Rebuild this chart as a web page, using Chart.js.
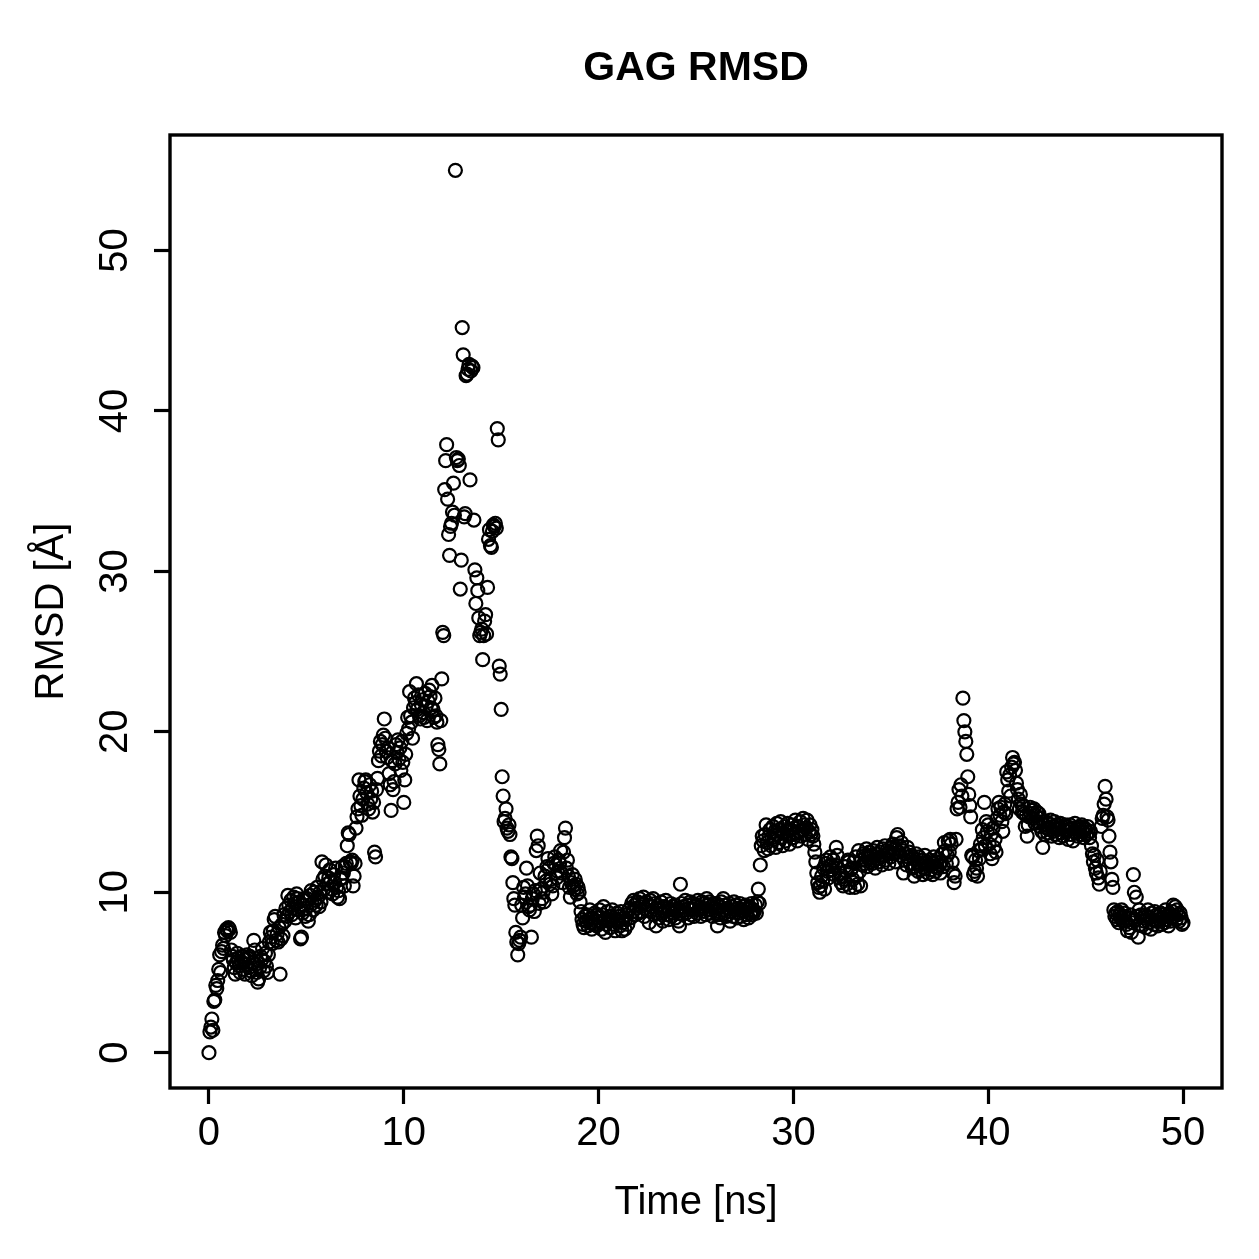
<!DOCTYPE html>
<html>
<head>
<meta charset="utf-8">
<title>GAG RMSD</title>
<script src="https://cdn.jsdelivr.net/npm/chart.js@4/dist/chart.umd.min.js"></script>
<style>
  html, body { margin: 0; padding: 0; background: #fff; }
  #chart { display: block; }
</style>
</head>
<body>
<canvas id="chart" width="1259" height="1259"></canvas>
<script>
const TITLE = 'GAG RMSD';
const X_LABEL = 'Time [ns]';
const Y_LABEL = 'RMSD [Å]';

const X_TICKS = [0, 10, 20, 30, 40, 50];
const Y_TICKS = [0, 10, 20, 30, 40, 50];

// one frame every 0.05 ns, 20 frames per row (row n = n .. n+0.95 ns)
const STEP_NS = 0.05;
const rmsd = [
  0.0, 1.3, 1.6, 2.1, 1.4, 3.2, 3.3, 4.2, 4.0, 4.5, 5.2, 6.1, 5.0, 6.3, 6.7, 6.5, 7.5, 7.3, 7.7, 7.6,
  7.8, 7.7, 7.5, 6.4, 6.0, 5.8, 5.3, 4.9, 5.6, 6.2, 5.9, 5.4, 5.0, 5.7, 6.0, 5.2, 5.8, 4.9, 5.5, 6.1,
  5.9, 5.3, 6.0, 5.1, 4.8, 5.6, 7.0, 6.4, 5.5, 5.0, 4.4, 4.6, 5.3, 6.0, 5.8, 6.5, 5.1, 5.7, 6.2, 5.4,
  5.0, 6.1, 6.9, 7.5, 7.2, 6.8, 7.6, 8.3, 8.5, 7.0, 7.4, 6.9, 7.8, 4.9, 7.1, 8.0, 7.3, 8.6, 8.2, 9.0,
  8.5, 9.8, 9.2, 8.8, 9.5, 8.6, 9.0, 9.7, 9.3, 8.4, 9.9, 9.6, 8.9, 9.4, 7.1, 7.2, 8.7, 9.2, 9.6, 8.5,
  9.0, 9.6, 8.2, 8.6, 9.8, 10.1, 9.3, 8.9, 10.0, 9.5, 9.2, 10.3, 9.7, 9.1, 10.0, 9.4, 11.9, 10.8, 10.2, 11.0,
  11.7, 10.5, 10.0, 10.9, 11.4, 10.7, 10.2, 9.9, 11.1, 10.6, 11.5, 10.3, 9.7, 10.1, 9.6, 10.8, 10.9, 11.6, 11.2, 10.4,
  11.6, 11.8, 12.9, 13.7, 13.6, 11.9, 11.8, 12.0, 10.4, 11.0, 11.8, 14.0, 14.7, 15.2, 17.0, 16.0, 15.4, 14.8, 15.8, 16.5,
  16.9, 17.0, 16.2, 15.5, 15.2, 16.7, 15.8, 16.3, 15.0, 15.6, 12.5, 12.2, 16.4, 17.1, 18.2, 18.8, 19.4, 18.5, 19.2, 19.8,
  20.8, 19.6, 18.8, 18.4, 19.0, 17.4, 16.7, 15.1, 18.2, 16.4, 16.9, 18.0, 19.2, 18.7, 19.5, 18.3, 19.0, 17.6, 19.4, 18.1,
  15.6, 17.0, 18.6, 19.9, 20.9, 20.2, 22.5, 21.0, 20.6, 19.6, 21.5, 22.1, 21.8, 23.0, 21.4, 22.3, 21.0, 20.8, 21.7, 22.0,
  21.2, 20.9, 22.4, 21.6, 20.7, 21.9, 22.6, 22.2, 21.5, 22.9, 21.4, 20.9, 22.1, 21.0, 20.6, 19.2, 18.9, 18.0, 20.7, 23.3,
  26.2, 26.0, 35.1, 36.9, 37.9, 34.5, 32.3, 31.0, 32.8, 33.0, 33.7, 35.5, 33.5, 55.0, 37.1, 36.9, 37.0, 36.6, 28.9, 30.7,
  45.2, 43.5, 33.4, 33.6, 42.2, 42.3, 42.6, 42.9, 35.7, 42.5, 42.8, 42.7, 33.2, 30.1, 28.0, 29.6, 28.8, 27.1, 26.0, 26.2,
  26.4, 24.5, 26.0, 26.9, 27.3, 26.1, 29.0, 32.0, 32.6, 31.6, 31.5, 32.5, 32.9, 32.8, 33.0, 32.7, 38.9, 38.2, 24.1, 23.6,
  21.4, 17.2, 16.0, 14.4, 14.6, 15.2, 14.0, 13.8, 14.2, 13.6, 12.2, 12.1, 10.6, 9.6, 9.2, 7.5, 6.9, 6.1, 6.8, 7.0,
  7.2, 9.2, 8.4, 10.3, 9.7, 9.9, 11.5, 10.4, 9.1, 8.9, 9.2, 7.2, 9.6, 9.9, 8.8, 10.1, 12.6, 13.5, 12.9, 9.3,
  11.2, 10.2, 9.6, 10.0, 9.4, 11.0, 10.7, 11.6, 12.1, 11.5, 10.5, 10.8, 9.9, 10.4, 11.8, 12.2, 11.7, 10.9, 11.3, 12.0,
  11.8, 12.6, 11.2, 10.6, 12.5, 13.4, 14.0, 11.5, 12.0, 11.0, 10.3, 9.7, 10.6, 11.1, 10.4, 10.2, 10.8, 10.5, 9.9, 10.3,
  10.0, 9.4, 8.8, 8.3, 8.0, 7.8, 8.5, 8.2, 8.6, 7.9, 8.3, 8.9, 8.1, 7.7, 8.4, 8.0, 8.7, 8.2, 7.9, 8.6,
  8.4, 8.9, 8.1, 7.7, 8.6, 9.1, 8.3, 7.5, 8.0, 8.8, 8.2, 8.5, 7.8, 8.3, 8.9, 8.4, 8.0, 7.6, 8.3, 8.7,
  8.2, 8.5, 7.9, 8.8, 7.6, 8.1, 8.4, 7.7, 8.3, 8.6, 8.0, 8.9, 9.0, 8.4, 9.3, 8.8, 9.5, 9.2, 8.6, 9.0,
  9.4, 8.7, 9.6, 9.1, 8.8, 9.3, 9.7, 8.5, 9.0, 9.4, 8.9, 9.2, 8.1, 9.5, 8.8, 9.1, 9.6, 8.6, 9.3, 7.9,
  8.9, 9.2, 8.4, 9.0, 9.4, 8.7, 8.2, 9.1, 8.8, 9.5, 8.6, 9.0, 8.3, 8.9, 9.3, 8.5, 9.1, 8.7, 9.2, 8.4,
  8.8, 9.0, 8.2, 7.9, 10.5, 9.3, 8.6, 9.1, 8.9, 9.5, 8.7, 9.2, 8.4, 9.0, 9.4, 8.6, 8.9, 9.3, 8.5, 9.1,
  9.2, 8.7, 9.5, 8.9, 9.1, 8.5, 9.4, 9.0, 8.8, 9.3, 8.6, 9.6, 9.2, 8.9, 9.4, 8.7, 9.1, 8.5, 9.3, 9.0,
  8.8, 9.3, 7.9, 8.6, 9.1, 8.4, 9.4, 8.9, 9.6, 8.7, 9.2, 8.5, 9.0, 8.6, 9.3, 8.2, 8.8, 9.1, 8.5, 9.4,
  8.9, 9.2, 8.4, 9.0, 8.7, 9.3, 8.5, 8.9, 9.1, 8.3, 8.8, 9.2, 8.6, 9.0, 8.4, 9.1, 8.7, 9.3, 8.6, 8.9,
  8.8, 9.2, 8.7, 9.4, 10.2, 9.3, 11.7, 12.9, 13.5, 13.2, 12.6, 13.6, 14.2, 13.1, 12.7, 13.5, 13.9, 12.9, 13.4, 14.1,
  13.3, 13.8, 12.8, 14.3, 13.6, 13.1, 13.9, 14.4, 13.4, 12.9, 13.7, 14.1, 13.2, 13.8, 14.3, 13.5, 13.0, 13.9, 14.2, 13.6,
  13.4, 14.0, 14.5, 13.7, 13.2, 14.1, 13.8, 14.4, 13.5, 13.9, 14.6, 14.2, 13.6, 14.0, 14.5, 13.3, 13.8, 14.2, 13.6, 13.9,
  13.5, 13.0, 12.5, 11.9, 11.2, 10.6, 10.3, 10.0, 10.4, 11.0, 10.7, 11.5, 10.2, 11.8, 12.0, 11.3, 10.9, 11.6, 12.2, 11.7,
  11.4, 12.0, 11.1, 11.7, 12.8, 12.3, 11.5, 10.9, 11.2, 10.6, 11.0, 10.4, 10.8, 11.6, 11.3, 10.5, 12.0, 11.9, 10.3, 11.4,
  11.5, 10.8, 11.9, 10.3, 12.2, 11.0, 10.5, 12.6, 11.3, 10.4, 12.0, 11.7, 12.4, 11.8, 12.3, 12.7, 11.6, 12.1, 12.5, 11.9,
  12.3, 11.8, 12.6, 12.0, 11.5, 12.4, 12.8, 12.1, 11.9, 12.5, 12.2, 11.7, 12.7, 12.3, 12.9, 12.0, 12.6, 12.4, 11.8, 12.5,
  12.2, 12.8, 13.0, 12.4, 12.7, 11.9, 13.4, 13.6, 12.5, 12.9, 12.3, 13.1, 12.6, 11.2, 12.0, 12.4, 11.7, 12.8, 12.2, 12.5,
  11.8, 12.3, 11.5, 12.1, 11.0, 11.6, 12.4, 11.9, 11.3, 12.2, 11.7, 11.4, 12.0, 11.1, 11.8, 12.3, 11.5, 11.9, 11.2, 11.7,
  12.0, 11.4, 11.8, 11.1, 12.2, 11.6, 11.3, 11.9, 11.5, 12.1, 11.7, 11.2, 11.9, 12.4, 11.6, 13.1, 12.6, 11.8, 12.3, 13.2,
  12.5, 13.3, 13.0, 11.9, 11.2, 10.6, 11.0, 13.3, 15.2, 15.6, 16.4, 15.3, 16.7, 16.0, 22.1, 20.7, 20.0, 19.4, 18.6, 17.2,
  16.1, 15.4, 14.7, 12.3, 12.2, 11.1, 11.3, 12.0, 11.5, 11.0, 12.6, 12.1, 13.0, 12.7, 13.9, 13.4, 15.6, 12.9, 14.4, 13.8,
  14.2, 13.0, 12.4, 13.6, 12.1, 14.0, 12.8, 13.3, 12.5, 14.6, 15.2, 15.6, 14.8, 15.3, 14.4, 13.8, 15.0, 15.5, 14.9, 17.5,
  17.0, 16.3, 17.3, 16.0, 17.8, 18.4, 18.0, 18.1, 17.6, 16.8, 16.4, 15.8, 15.2, 16.1, 15.5, 15.0, 15.4, 14.9, 14.1, 14.8,
  13.5, 14.2, 14.7, 15.3, 14.9, 15.1, 14.6, 15.2, 14.3, 14.8, 15.0, 14.4, 14.9, 14.1, 14.6, 13.8, 12.8, 14.2, 13.6, 14.4,
  14.0, 13.7, 14.3, 13.9, 14.5, 13.5, 14.1, 13.8, 14.4, 13.6, 14.2, 13.9, 14.0, 13.4, 14.3, 13.7, 14.1, 13.5, 13.9, 14.2,
  13.8, 14.1, 13.3, 13.9, 14.2, 13.6, 14.0, 13.2, 13.8, 14.3, 13.7, 14.0, 13.5, 13.9, 14.1, 13.6, 14.2, 13.8, 13.4, 14.0,
  13.9, 13.6, 14.1, 13.7, 13.4, 13.8, 12.9, 12.4, 11.9, 12.3, 11.5, 11.2, 12.0, 10.9, 10.5, 11.3, 14.1, 14.6, 14.8, 15.5,
  16.6, 15.8, 14.7, 14.5, 13.5, 12.5, 11.9, 10.8, 10.3, 8.9, 8.5, 8.7, 8.3, 8.8, 8.1, 8.6, 8.4, 8.9, 8.2, 8.5,
  8.7, 8.2, 8.0, 7.6, 8.4, 7.8, 8.6, 7.5, 8.1, 11.1, 10.0, 8.3, 9.7, 8.5, 7.2, 8.9, 8.0, 8.6, 7.9, 8.4,
  8.2, 8.6, 7.8, 8.5, 8.9, 8.1, 8.4, 7.7, 8.7, 8.3, 8.0, 8.8, 8.2, 8.6, 7.9, 8.5, 8.3, 8.7, 8.0, 8.4,
  8.6, 8.1, 8.9, 8.3, 8.5, 7.9, 8.7, 8.2, 8.4, 8.8, 9.2, 8.5, 9.1, 8.3, 8.9, 8.6, 8.2, 8.7, 8.4, 8.0,
  8.1,
];

const FONT = "'Liberation Sans', Arial, Helvetica, sans-serif";

const points = rmsd.map((v, i) => ({ x: +(i * STEP_NS).toFixed(2), y: v }));

// R-style closed box around the plot region, plus the main title centred over it
const boxPlugin = {
  id: 'box',
  afterDraw(chart) {
    const { ctx, chartArea: a } = chart;
    ctx.save();
    ctx.strokeStyle = '#000';
    ctx.lineWidth = 3.4;
    ctx.strokeRect(a.left, a.top, a.right - a.left, a.bottom - a.top);
    ctx.fillStyle = '#000';
    ctx.font = `bold 41px ${FONT}`;
    ctx.textAlign = 'center';
    ctx.textBaseline = 'middle';
    ctx.fillText(TITLE, (a.left + a.right) / 2, 69);
    ctx.restore();
  },
};

const fixedTicks = (values) => (axis) => {
  axis.ticks = values.map((v) => ({ value: v }));
};

const axisGrid = {
  display: true,
  drawOnChartArea: false,
  drawTicks: true,
  tickLength: 16,
  tickWidth: 3.2,
  tickColor: '#000',
  color: '#000',
};

new Chart(document.getElementById('chart'), {
  type: 'scatter',
  data: {
    datasets: [
      {
        label: Y_LABEL,
        data: points,
        pointStyle: 'circle',
        pointRadius: 6.5,
        pointBorderWidth: 2.2,
        pointBorderColor: '#000',
        pointBackgroundColor: 'rgba(0,0,0,0)',
        showLine: false,
      },
    ],
  },
  plugins: [boxPlugin],
  options: {
    responsive: false,
    animation: false,
    devicePixelRatio: 1,
    layout: { padding: { left: 0, right: 37, top: 135, bottom: 0 } },
    plugins: {
      legend: { display: false },
      tooltip: { enabled: false },
      title: { display: false },
    },
    scales: {
      x: {
        type: 'linear',
        min: -2,
        max: 52,
        afterBuildTicks: fixedTicks(X_TICKS),
        afterFit: (s) => { s.height = 171; },
        grid: axisGrid,
        border: { display: false },
        ticks: {
          color: '#000',
          padding: 6,
          maxRotation: 0,
          font: { family: FONT, size: 40 },
        },
        title: {
          display: true,
          text: X_LABEL,
          color: '#000',
          font: { family: FONT, size: 40, lineHeight: 1.2 },
          padding: { top: 0, bottom: 32 },
        },
      },
      y: {
        type: 'linear',
        min: -2.2,
        max: 57.2,
        afterBuildTicks: fixedTicks(Y_TICKS),
        afterFit: (s) => { s.width = 170; },
        grid: axisGrid,
        border: { display: false },
        ticks: {
          color: '#000',
          padding: 16,
          minRotation: 90,
          maxRotation: 90,
          crossAlign: 'center',
          font: { family: FONT, size: 40 },
        },
        title: {
          display: true,
          text: Y_LABEL,
          color: '#000',
          font: { family: FONT, size: 40, lineHeight: 1.2 },
          padding: { top: 28, bottom: 0 },
        },
      },
    },
  },
});
</script>
</body>
</html>
